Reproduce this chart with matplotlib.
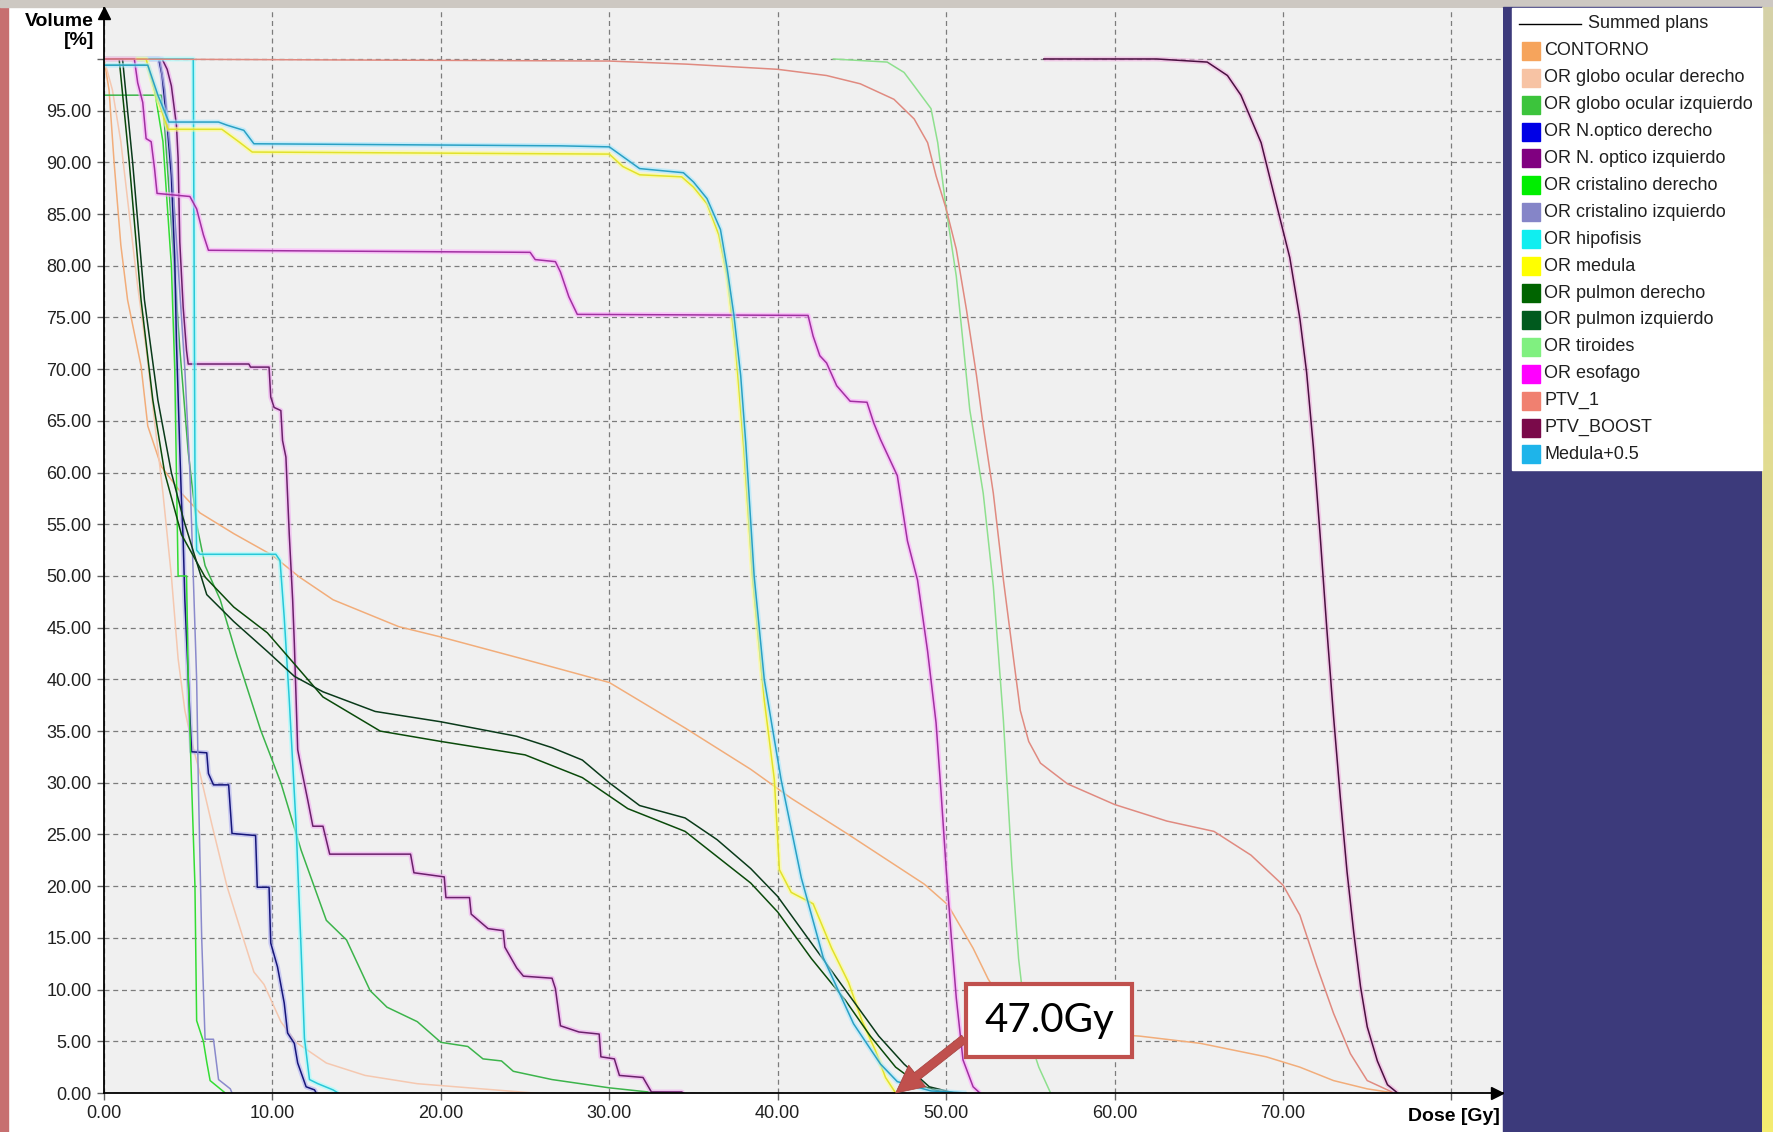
import numpy as np
import matplotlib.pyplot as plt
from matplotlib.patches import Rectangle
from matplotlib.lines import Line2D
from matplotlib.colors import LinearSegmentedColormap

plt.rcParams['font.family'] = ['Liberation Sans', 'DejaVu Sans']

# dose-volume histogram data, dose in Gy, volume in %
contorno_dose = [0, 0.3, 0.6, 1.0, 1.4, 2.2, 2.6, 3.4, 4.6, 5.7, 7.7, 10, 11.6, 13.6, 17.5, 20, 25.5, 30, 34.5,
                 38.4, 40.8, 44.1, 48.7, 50.1, 51.6, 52.5, 53.5, 54.5, 56, 58, 61.5, 65.1, 69, 71, 73, 75, 76.6]
contorno_vol = [100, 97, 90, 82, 76.7, 70.3, 64.5, 60.6, 58, 56.1, 54.1, 52, 49.9, 47.7, 45.1, 44.1, 41.7, 39.7, 35.3,
                31.3, 28.5, 25.1, 20.2, 18.2, 14, 11, 8.5, 7, 6.3, 5.9, 5.5, 4.8, 3.5, 2.5, 1.2, 0.4, 0]

globo_der_dose = [0, 0.5, 1.0, 1.5, 2.0, 2.5, 3.0, 3.5, 4.0, 4.4, 4.8, 5.2, 5.7, 6.4, 7.3, 8.2, 8.9, 9.5, 10.5,
                  11.4, 13.2, 15.5, 18.6, 23.2, 25.5]
globo_der_vol = [100, 97, 92, 85, 78, 72, 65, 58, 50, 42, 37, 34, 30.9, 26, 20, 15.3, 11.7, 10.5, 6.9,
                 4.9, 2.9, 1.7, 0.9, 0.3, 0]

globo_izq_dose = [0, 3.4, 3.6, 4.0, 4.5, 5.0, 5.5, 6.0, 6.9, 7.9, 9.3, 10.5, 11.7, 13.2, 14.4, 15.8, 16.8, 18.6,
                  20, 21.6, 22.5, 23.6, 24.3, 26.6, 30, 32.3, 34]
globo_izq_vol = [96.5, 96.5, 93.5, 84, 72, 62, 55, 51, 47.7, 42.2, 35.1, 30, 23.5, 16.7, 14.8, 9.9, 8.3, 6.9,
                 4.9, 4.5, 3.3, 3.1, 2.1, 1.3, 0.5, 0.1, 0]

nopt_der_dose = [0, 3.25, 3.45, 3.75, 4.0, 4.2, 4.3, 4.5, 4.6, 4.7, 4.8, 5.0, 5.1, 5.2, 6.1, 6.2, 6.5, 7.4, 7.6,
                 9.0, 9.1, 9.8, 9.9, 10.3, 10.7, 10.9, 11.3, 11.5, 12.0, 12.5, 12.6]
nopt_der_vol = [100, 100, 98.4, 93.6, 88.7, 80.7, 72.7, 62.2, 57.3, 53.5, 47.7, 40.3, 36.4, 33, 32.9, 30.9, 29.8,
                29.8, 25.1, 24.9, 19.9, 19.9, 14.5, 12.2, 8.7, 5.8, 4.8, 2.9, 0.6, 0.3, 0]

nopt_izq_dose = [0, 3.45, 3.75, 4.0, 4.3, 4.4, 4.5, 4.6, 4.7, 4.9, 5.0, 8.6, 8.7, 9.8, 9.9, 10.1, 10.5, 10.6,
                 10.8, 11.0, 11.2, 11.3, 11.5, 11.7, 12.1, 12.4, 13.0, 13.4, 18.2, 18.4, 20.2, 20.3, 21.7, 21.8,
                 22.8, 23.7, 23.8, 24.5, 24.9, 26.6, 26.8, 27.1, 28.2, 29.4, 29.5, 30.3, 30.6, 32.0, 32.5, 34.3, 34.4]
nopt_izq_vol = [100, 100, 99, 97.4, 93.6, 90.4, 82.3, 79.1, 76, 71.8, 70.5, 70.5, 70.2, 70.2, 67.3, 66.3, 66,
                63.1, 61.5, 54, 47.7, 43.5, 33.2, 31.5, 28.3, 25.8, 25.8, 23.1, 23.1, 21.3, 20.9, 18.9, 18.9,
                17.3, 15.9, 15.7, 14.1, 12.1, 11.3, 11.1, 10.1, 6.5, 5.9, 5.7, 3.5, 3.3, 1.7, 1.5, 0.1, 0.1, 0]

crist_der_dose = [0, 2.6, 3.0, 3.5, 4.0, 4.2, 4.3, 4.4, 4.9, 5.0, 5.2, 5.4, 5.5, 5.9, 6.1, 6.3, 6.9, 7.2]
crist_der_vol = [99.4, 99.4, 97, 92, 80, 70, 60, 50, 50, 40, 30, 20, 7, 5, 3, 1.2, 0.4, 0]

crist_izq_dose = [0, 3.3, 3.6, 4.0, 4.4, 4.8, 5.1, 5.3, 5.5, 5.6, 5.8, 6.0, 6.5, 6.8, 7.5, 7.6]
crist_izq_vol = [100, 100, 97, 90, 80, 70, 60, 50, 40, 30, 15, 5.2, 5.2, 1.3, 0.4, 0]

hipofisis_dose = [0, 5.3, 5.35, 5.4, 5.5, 5.7, 10.2, 10.45, 10.7, 11.0, 11.4, 11.7, 11.9, 12.2, 12.7, 13.6, 13.9]
hipofisis_vol = [100, 100, 80, 60, 52.5, 52.1, 52.1, 51.5, 46, 38, 26, 14, 5.3, 1.3, 0.9, 0.3, 0]

medula_dose = [0, 2.5, 3.0, 3.8, 7.0, 8.0, 8.8, 30, 30.8, 31.8, 34.3, 35, 35.8, 36.5, 37, 37.5, 38, 38.5, 39.2,
               39.8, 40.1, 40.8, 42.1, 43.2, 44.2, 45.0, 45.8, 46.4, 47.0]
medula_vol = [100, 100, 97, 93.2, 93.2, 92, 91, 90.8, 89.6, 88.8, 88.6, 87.6, 86, 83, 79, 72, 62, 50, 38,
              30.3, 21.6, 19.4, 18.3, 14, 10.7, 7, 4.1, 1.5, 0]

pulmon_der_dose = [0, 0.9, 1.5, 2.2, 2.9, 3.6, 4.6, 6.0, 7.7, 9.7, 11.3, 13.0, 16.4, 20, 25, 28.4, 31.1, 34.5,
                   38.4, 40, 42, 44, 45.5, 47, 48.5, 50]
pulmon_der_vol = [100, 100, 90, 76.7, 67, 60, 54, 49.9, 47, 44.5, 41.5, 38.3, 35, 34, 32.7, 30.5, 27.5, 25.3,
                  20.3, 17.5, 13, 9, 5.5, 2.5, 0.7, 0]

pulmon_izq_dose = [0, 1.1, 1.7, 2.4, 3.2, 4.0, 4.7, 5.3, 6.1, 7.7, 9.7, 11.3, 13.0, 16.1, 20, 24.5, 26.6, 28.4,
                   30, 31.8, 34.5, 36.4, 38.4, 40, 42, 44, 46, 47.5, 49, 50.5]
pulmon_izq_vol = [100, 100, 90, 76.7, 67, 60, 55.6, 52.4, 48.2, 45.6, 42.7, 40.3, 38.8, 36.9, 35.9, 34.5, 33.4,
                  32.2, 30, 27.8, 26.6, 24.5, 21.7, 19, 14.5, 10, 5.5, 2.8, 0.6, 0]

tiroides_dose = [43.3, 46.5, 47.5, 48.1, 49.1, 49.5, 50, 50.6, 51, 51.4, 52.2, 52.8, 53.4, 53.9, 54.3, 54.8,
                 55.5, 56.2]
tiroides_vol = [100, 99.7, 98.7, 97.4, 95.2, 91.9, 85.5, 79, 72.6, 66.1, 58, 49, 36, 22, 13, 6, 2.5, 0]

esofago_dose = [0, 1.8, 2.0, 2.3, 2.5, 2.8, 3.0, 3.15, 5.1, 5.5, 5.9, 6.2, 25.3, 25.6, 26.8, 27.1, 27.6, 28.1,
                41.8, 42.1, 42.5, 42.9, 43.5, 44.3, 45.3, 45.7, 46.1, 47.1, 47.7, 48.3, 48.9, 49.4, 49.7, 50,
                50.3, 50.6, 51, 51.6, 52]
esofago_vol = [100, 100, 97.7, 95.8, 92.3, 92, 89.4, 87, 86.7, 85.5, 83, 81.5, 81.3, 80.6, 80.4, 79.4, 77, 75.3,
               75.2, 73.2, 71.3, 70.6, 68.4, 66.9, 66.8, 64.8, 63.2, 59.7, 53.4, 49.6, 42.7, 35.8, 29, 21.7,
               15.2, 9.2, 3.2, 0.6, 0]

ptv1_dose = [0, 30, 34.6, 40, 42.9, 44.9, 46.9, 48.1, 48.9, 49.4, 50, 50.6, 51.2, 51.8, 52.2, 52.8, 53.4, 54.0,
             54.4, 54.9, 55.6, 57.2, 60, 63.1, 65.9, 68.1, 70, 71, 72, 73, 74, 75, 76.6]
ptv1_vol = [100, 99.8, 99.5, 99, 98.4, 97.6, 96.1, 94.2, 91.9, 88.7, 85.5, 81.6, 75.8, 69.4, 64.5, 58, 49.6, 42,
            37, 34, 31.9, 29.9, 27.9, 26.3, 25.3, 23, 20.1, 17.2, 12.3, 7.7, 3.8, 1.2, 0]

boost_dose = [55.8, 62.5, 65.5, 66.7, 67.5, 68.7, 69.6, 70.4, 71, 71.4, 71.8, 72.2, 72.6, 73, 73.4, 73.8, 74.2,
              74.6, 75, 75.6, 76.2, 76.8]
boost_vol = [100, 100, 99.7, 98.4, 96.5, 91.9, 86, 80.8, 74.9, 69.7, 62.5, 54, 44.9, 36.4, 28.6, 21.4, 15.5,
             10.3, 6.4, 3.1, 0.8, 0]

medula05_dose = [0, 2.6, 3.2, 3.85, 6.8, 7.3, 8.3, 8.9, 27.1, 30, 30.6, 31.8, 34.4, 35, 35.8, 36.6, 37, 37.4,
                 37.8, 38.1, 38.6, 39.2, 40.2, 41.4, 42.7, 44.5, 46.1, 47.1, 49.1, 51.2]
medula05_vol = [99.4, 99.4, 96.5, 93.9, 93.9, 93.6, 93.1, 91.8, 91.6, 91.5, 90.8, 89.4, 89, 88.1, 86.5, 83.5,
                79.7, 75.2, 69.4, 62.9, 50, 40, 30.3, 20.8, 13.1, 6.7, 2.8, 1.1, 0.2, 0]

structures = ['CONTORNO', 'OR globo ocular derecho', 'OR globo ocular izquierdo', 'OR N.optico derecho',
              'OR N. optico izquierdo', 'OR cristalino derecho', 'OR cristalino izquierdo', 'OR hipofisis',
              'OR medula', 'OR pulmon derecho', 'OR pulmon izquierdo', 'OR tiroides', 'OR esofago', 'PTV_1',
              'PTV_BOOST', 'Medula+0.5']
doses = [contorno_dose, globo_der_dose, globo_izq_dose, nopt_der_dose, nopt_izq_dose, crist_der_dose,
         crist_izq_dose, hipofisis_dose, medula_dose, pulmon_der_dose, pulmon_izq_dose, tiroides_dose,
         esofago_dose, ptv1_dose, boost_dose, medula05_dose]
volumes = [contorno_vol, globo_der_vol, globo_izq_vol, nopt_der_vol, nopt_izq_vol, crist_der_vol,
           crist_izq_vol, hipofisis_vol, medula_vol, pulmon_der_vol, pulmon_izq_vol, tiroides_vol,
           esofago_vol, ptv1_vol, boost_vol, medula05_vol]

x_ticks = [0, 10, 20, 30, 40, 50, 60, 70, 80]
x_labels = ['0.00', '10.00', '20.00', '30.00', '40.00', '50.00', '60.00', '70.00', '']
y_ticks = list(range(0, 101, 5))
y_labels = ['%.2f' % v for v in y_ticks[:-1]] + ['']

marker_dose = 47.0
marker_text = '47.0Gy'

# styles
legend_colors = ['#f6a45c', '#f7c3a4', '#3cc43c', '#0000e6', '#800080', '#00ee00', '#8585c8', '#10eef0',
                 '#ffff00', '#006400', '#005a1e', '#80f080', '#ff00ff', '#f08070', '#7a0a4a', '#1eb4ea']
line_colors = ['#f2ad7a', '#f5c8b0', '#3cb44b', '#16167a', '#6a206a', '#33dd33', '#8a8acc', '#28c8d8',
               '#e2e22a', '#0a4a0a', '#0a3a1a', '#8ee08e', '#a030a0', '#e08a80', '#4a1040', '#2aa0c4']
glow_colors = [None, None, None, '#b0b0f0', '#f0a8f0', None, None, '#a0ffff',
               '#ffff90', None, None, None, '#ffa8ff', None, '#f0b0e0', '#a8e8ff']

W, H = 1773, 1132


def fx(px):
    return px / W


def fy(py):
    return 1 - py / H


fig = plt.figure(figsize=(W / 100, H / 100), dpi=100)
fig.patch.set_facecolor('white')

# slide frame around the screenshot
fig.add_artist(Rectangle((0, 0), fx(8), 1, transform=fig.transFigure, color='#c76f70', zorder=0))
fig.add_artist(Rectangle((0, fy(7)), 1, 7 / H, transform=fig.transFigure, color='#cdc8c2', zorder=0))
fig.add_artist(Rectangle((fx(1503), 0), (1762 - 1503) / W, fy(7), transform=fig.transFigure,
                         color='#3c3a7b', zorder=0))
strip = fig.add_axes([fx(1762), 0, 11 / W, fy(7)])
strip.imshow(np.linspace(0, 1, 256).reshape(-1, 1), aspect='auto',
             cmap=LinearSegmentedColormap.from_list('strip', ['#d5d1a8', '#f4ec70']))
strip.axis('off')

# plot area
ax = fig.add_axes([fx(104), fy(1093), (1503 - 104) / W, (1093 - 8) / H])
ax.set_facecolor('#f0f0f0')
ax.set_xlim(0, 83.06)
ax.set_ylim(0, 104.93)
ax.set_xticks(x_ticks)
ax.set_xticklabels(x_labels)
ax.set_yticks(y_ticks)
ax.set_yticklabels(y_labels)
ax.tick_params(axis='both', length=5, width=1, color='#606060', labelsize=13, pad=4, labelcolor='#202020')
ax.set_axisbelow(True)
ax.grid(True, color='#7c7c7c', linestyle=(0, (4, 3)), linewidth=0.9)
for side in ['top', 'right']:
    ax.spines[side].set_visible(False)
for side in ['left', 'bottom']:
    ax.spines[side].set_color('black')
    ax.spines[side].set_linewidth(1.3)
ax.plot([0], [1 - 5 / 1085], marker='^', ms=9, color='black', transform=ax.transAxes, clip_on=False)
ax.plot([1 - 6 / 1399], [0], marker='>', ms=9, color='black', transform=ax.transAxes, clip_on=False)

for d, v, lc, gc in zip(doses, volumes, line_colors, glow_colors):
    if gc is not None:
        ax.plot(d, v, color=gc, lw=3.5, alpha=0.6, solid_capstyle='butt')
    ax.plot(d, v, color=lc, lw=1.1)

ax.annotate(marker_text, xy=(marker_dose, 0), xytext=(56.1, 7.0), fontsize=29, fontfamily='Lato',
            ha='center', va='center', zorder=10, annotation_clip=False,
            bbox=dict(boxstyle='square,pad=0.45', fc='white', ec='#c0504d', lw=3),
            arrowprops=dict(arrowstyle='simple,head_length=1.1,head_width=1.1,tail_width=0.35',
                            fc='#c0504d', ec='#a5403d', lw=0.5, mutation_scale=18,
                            shrinkA=0, shrinkB=0, relpos=(0, 0.43)))

fig.text(fx(94), fy(13), 'Volume\n[%]', ha='right', va='top', fontsize=14, fontweight='bold',
         linespacing=1.15, multialignment='right')
fig.text(fx(1500), fy(1121), 'Dose [Gy]', ha='right', va='baseline', fontsize=14, fontweight='bold')

# legend panel
fig.add_artist(Rectangle((fx(1512), fy(470)), (1762 - 1512) / W, (470 - 8) / H,
                         transform=fig.transFigure, color='white', zorder=1))
fig.add_artist(Line2D([fx(1519), fx(1581)], [fy(24), fy(24)], transform=fig.transFigure,
                      color='black', lw=1, zorder=2))
fig.text(fx(1588), fy(24), 'Summed plans', ha='left', va='center', fontsize=13, color='#202020')
for i, (name, col) in enumerate(zip(structures, legend_colors)):
    yc = 24 + 26.9 * (i + 1)
    fig.add_artist(Rectangle((fx(1522), fy(yc + 9)), 18 / W, 18 / H, transform=fig.transFigure,
                             color=col, zorder=2))
    fig.text(fx(1544), fy(yc), name, ha='left', va='center', fontsize=13, color='#202020')

fig.savefig('out.png', dpi=100)
